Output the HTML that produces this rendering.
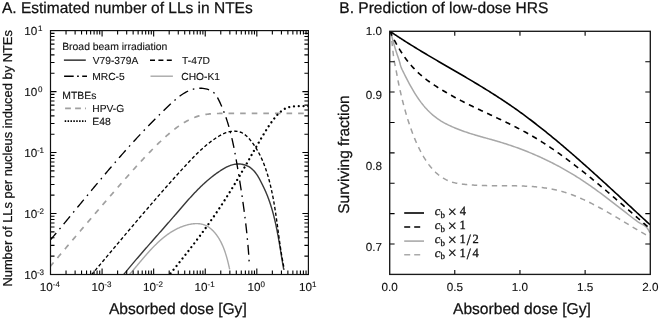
<!DOCTYPE html>
<html><head><meta charset="utf-8"><style>
html,body{margin:0;padding:0;background:#fff;}
svg{display:block;will-change:transform;}
text{font-family:"Liberation Sans", sans-serif;fill:#111;stroke:#111;stroke-width:0.12px;text-rendering:geometricPrecision;}
text.big{stroke:#111;stroke-width:0.25px;}
text.ser{font-family:"Liberation Serif", serif;stroke:#111;stroke-width:0.3px;}
</style></head><body>
<svg width="660" height="319" viewBox="0 0 660 319">
<defs><clipPath id="ca"><rect x="51" y="31" width="257" height="243"/></clipPath></defs><g clip-path="url(#ca)"><path d="M125.04 279.40L125.37 279.05L125.70 278.70L126.03 278.34L126.36 277.99L126.69 277.63L127.02 277.27L127.34 276.90L127.67 276.54L128.00 276.17L128.33 275.80L128.66 275.43L128.98 275.06L129.31 274.69L129.64 274.31L129.97 273.94L130.30 273.56L130.62 273.18L130.95 272.80L131.28 272.42L131.61 272.04L131.94 271.65L132.27 271.27L132.60 270.88L132.92 270.49L133.25 270.10L133.58 269.71L133.91 269.32L134.24 268.93L134.57 268.54L134.90 268.14L135.23 267.75L135.57 267.35L135.90 266.96L136.23 266.56L136.56 266.16L136.89 265.76L137.23 265.37L137.56 264.97L137.89 264.57L138.23 264.17L138.56 263.77L138.90 263.36L139.23 262.96L139.57 262.56L139.90 262.16L140.24 261.76L140.58 261.36L140.92 260.95L141.26 260.55L141.59 260.15L141.93 259.75L142.27 259.34L142.61 258.94L142.96 258.54L143.30 258.14L143.64 257.74L143.99 257.33L144.33 256.93L144.67 256.53L145.02 256.13L145.37 255.73L145.71 255.33L146.06 254.93L146.41 254.54L146.76 254.14L147.11 253.74L147.46 253.34L147.81 252.95L148.17 252.55L148.52 252.16L148.87 251.77L149.23 251.37L149.59 250.98L149.94 250.59L150.30 250.20L150.66 249.81L151.02 249.43L151.38 249.04L151.74 248.66L152.11 248.27L152.47 247.89L152.84 247.51L153.20 247.13L153.57 246.75L153.94 246.37L154.31 246.00L154.68 245.62L155.05 245.25L155.43 244.88L155.80 244.51L156.18 244.15L156.55 243.78L156.93 243.42L157.31 243.05L157.69 242.69L158.07 242.34L158.45 241.98L158.84 241.63L159.22 241.27L159.61 240.92L160.00 240.58L160.39 240.23L160.78 239.89L161.17 239.55L161.57 239.21L161.96 238.87L162.36 238.54L162.76 238.20L163.16 237.87L163.56 237.55L163.96 237.22L164.36 236.90L164.77 236.58L165.18 236.27L165.59 235.95L166.00 235.64L166.41 235.33L166.82 235.03L167.24 234.73L167.65 234.43L168.07 234.13L168.49 233.84L168.91 233.55L169.34 233.26L169.76 232.97L170.19 232.69L170.62 232.42L171.05 232.14L171.48 231.87L171.91 231.60L172.35 231.34L172.79 231.08L173.23 230.82L173.67 230.57L174.11 230.32L174.55 230.07L175.00 229.83L175.45 229.59L175.90 229.35L176.35 229.12L176.81 228.89L177.26 228.67L177.72 228.45L178.18 228.23L178.65 228.02L179.11 227.81L179.58 227.60L180.04 227.40L180.51 227.21L180.99 227.02L181.46 226.83L181.94 226.64L182.42 226.47L182.90 226.29L183.38 226.12L183.87 225.95L184.36 225.79L184.85 225.64L185.34 225.48L185.83 225.34L186.33 225.19L186.83 225.06L187.33 224.92L187.83 224.79L188.34 224.67L188.84 224.55L189.35 224.44L189.86 224.34L190.37 224.24L190.88 224.14L191.39 224.06L191.91 223.98L192.42 223.91L192.93 223.84L193.44 223.79L193.96 223.74L194.47 223.69L194.98 223.66L195.49 223.64L196.00 223.62L196.51 223.61L197.02 223.62L197.53 223.63L198.04 223.65L198.54 223.68L199.04 223.72L199.54 223.77L200.04 223.84L200.53 223.91L201.03 223.99L201.52 224.09L202.00 224.19L202.49 224.31L202.97 224.44L203.44 224.58L203.92 224.74L204.38 224.91L204.85 225.09L205.31 225.28L205.77 225.49L206.22 225.70L206.67 225.94L207.11 226.18L207.55 226.43L207.98 226.70L208.41 226.98L208.84 227.26L209.25 227.56L209.67 227.86L210.08 228.18L210.48 228.50L210.88 228.83L211.28 229.17L211.67 229.51L212.05 229.87L212.43 230.22L212.80 230.59L213.17 230.96L213.53 231.34L213.89 231.72L214.24 232.10L214.58 232.49L214.93 232.89L215.26 233.29L215.59 233.70L215.92 234.11L216.24 234.52L216.55 234.94L216.86 235.37L217.17 235.80L217.47 236.23L217.77 236.67L218.06 237.11L218.35 237.55L218.63 238.00L218.91 238.45L219.18 238.91L219.45 239.36L219.72 239.83L219.98 240.29L220.23 240.76L220.48 241.23L220.73 241.70L220.98 242.18L221.22 242.66L221.45 243.14L221.68 243.62L221.91 244.11L222.14 244.60L222.36 245.09L222.57 245.58L222.79 246.07L223.00 246.57L223.20 247.07L223.40 247.56L223.60 248.06L223.80 248.56L223.99 249.07L224.18 249.57L224.37 250.07L224.55 250.58L224.73 251.09L224.90 251.59L225.08 252.10L225.25 252.61L225.42 253.11L225.58 253.62L225.74 254.13L225.90 254.64L226.06 255.14L226.21 255.65L226.36 256.16L226.51 256.66L226.66 257.17L226.80 257.67L226.94 258.18L227.08 258.68L227.22 259.18L227.35 259.68L227.48 260.18L227.61 260.68L227.74 261.18L227.87 261.67L227.99 262.17L228.11 262.66L228.23 263.15L228.35 263.64L228.47 264.12L228.58 264.60L228.70 265.08L228.81 265.56L228.92 266.04L229.03 266.51L229.14 266.98L229.24 267.45L229.35 267.91L229.45 268.37L229.55 268.83L229.65 269.28" stroke="#a8a8a8" stroke-width="1.4" fill="none"/><path d="M45.34 272.18L46.10 271.29L46.86 270.39L47.62 269.49L48.38 268.59L49.14 267.70L49.90 266.80L50.66 265.90L51.42 265.00L52.18 264.11L52.94 263.21L53.70 262.31L54.46 261.41L55.22 260.52L55.98 259.62L56.75 258.72L57.51 257.83L58.27 256.93L59.03 256.03L59.79 255.14L60.55 254.24L61.31 253.34L62.07 252.45L62.83 251.55L63.59 250.65L64.35 249.76L65.11 248.86L65.87 247.96L66.63 247.07L67.39 246.17L68.15 245.28L68.91 244.38L69.67 243.49L70.43 242.59L71.19 241.69L71.95 240.80L72.71 239.90L73.47 239.01L74.23 238.11L74.99 237.22L75.75 236.32L76.51 235.43L77.27 234.54L78.03 233.64L78.80 232.75L79.56 231.85L80.32 230.96L81.08 230.07L81.84 229.17L82.60 228.28L83.36 227.39L84.12 226.49L84.88 225.60L85.64 224.71L86.40 223.82L87.16 222.93L87.92 222.03L88.68 221.14L89.44 220.25L90.20 219.36L90.96 218.47L91.72 217.58L92.48 216.69L93.24 215.80L94.00 214.91L94.76 214.02L95.52 213.13L96.28 212.25L97.04 211.36L97.80 210.47L98.56 209.58L99.32 208.70L100.08 207.81L100.85 206.92L101.61 206.04L102.37 205.15L103.13 204.27L103.89 203.39L104.65 202.50L105.41 201.62L106.17 200.74L106.93 199.85L107.69 198.97L108.45 198.09L109.21 197.21L109.97 196.33L110.73 195.45L111.49 194.58L112.25 193.70L113.01 192.82L113.77 191.95L114.53 191.07L115.29 190.20L116.05 189.32L116.81 188.45L117.57 187.58L118.33 186.71L119.09 185.84L119.85 184.97L120.61 184.10L121.37 183.24L122.13 182.37L122.90 181.51L123.66 180.64L124.42 179.78L125.18 178.92L125.94 178.06L126.70 177.20L127.46 176.34L128.22 175.49L128.98 174.64L129.74 173.78L130.50 172.93L131.26 172.08L132.02 171.24L132.78 170.39L133.54 169.55L134.30 168.70L135.06 167.86L135.82 167.02L136.58 166.19L137.34 165.35L138.10 164.52L138.86 163.69L139.62 162.87L140.38 162.04L141.14 161.22L141.90 160.40L142.66 159.58L143.42 158.77L144.18 157.95L144.94 157.15L145.71 156.34L146.47 155.54L147.23 154.74L147.99 153.94L148.75 153.15L149.51 152.36L150.27 151.57L151.03 150.79L151.79 150.01L152.55 149.24L153.31 148.47L154.07 147.70L154.83 146.94L155.59 146.18L156.35 145.43L157.11 144.68L157.87 143.94L158.63 143.20L159.39 142.47L160.15 141.74L160.91 141.02L161.67 140.31L162.43 139.60L163.19 138.89L163.95 138.19L164.71 137.50L165.47 136.82L166.23 136.14L166.99 135.46L167.76 134.80L168.52 134.14L169.28 133.49L170.04 132.85L170.80 132.21L171.56 131.59L172.32 130.97L173.08 130.36L173.84 129.76L174.60 129.16L175.36 128.58L176.12 128.01L176.88 127.44L177.64 126.89L178.40 126.34L179.16 125.80L179.92 125.28L180.68 124.76L181.44 124.26L182.20 123.77L182.96 123.28L183.72 122.81L184.48 122.35L185.24 121.91L186.00 121.47L186.76 121.04L187.52 120.63L188.28 120.23L189.04 119.84L189.81 119.47L190.57 119.10L191.33 118.75L192.09 118.42L192.85 118.09L193.61 117.78L194.37 117.48L195.13 117.19L195.89 116.91L196.65 116.65L197.41 116.40L198.17 116.17L198.93 115.94L199.69 115.73L200.45 115.53L201.21 115.34L201.97 115.16L202.73 115.00L203.49 114.84L204.25 114.70L205.01 114.56L205.77 114.44L206.53 114.33L207.29 114.22L208.05 114.13L208.81 114.04L209.57 113.96L210.33 113.89L211.09 113.82L211.86 113.77L212.62 113.71L213.38 113.67L214.14 113.63L214.90 113.59L215.66 113.56L216.42 113.54L217.18 113.51L217.94 113.49L218.70 113.48L219.46 113.46L220.22 113.45L220.98 113.44L221.74 113.43L222.50 113.43L223.26 113.42L224.02 113.42L224.78 113.41L225.54 113.41L226.30 113.41L227.06 113.41L227.82 113.41L228.58 113.41L229.34 113.40L230.10 113.40L230.86 113.40L231.62 113.40L232.38 113.40L233.14 113.40L233.91 113.40L234.67 113.40L235.43 113.40L236.19 113.40L236.95 113.40L237.71 113.40L238.47 113.40L239.23 113.40L239.99 113.40L240.75 113.40L241.51 113.40L242.27 113.40L243.03 113.40L243.79 113.40L244.55 113.40L245.31 113.40L246.07 113.40L246.83 113.40L247.59 113.40L248.35 113.40L249.11 113.40L249.87 113.40L250.63 113.40L251.39 113.40L252.15 113.40L252.91 113.40L253.67 113.40L254.43 113.40L255.19 113.40L255.96 113.40L256.72 113.40L257.48 113.40L258.24 113.40L259.00 113.40L259.76 113.40L260.52 113.40L261.28 113.40L262.04 113.40L262.80 113.40L263.56 113.40L264.32 113.40L265.08 113.40L265.84 113.40L266.60 113.40L267.36 113.40L268.12 113.40L268.88 113.40L269.64 113.40L270.40 113.40L271.16 113.40L271.92 113.40L272.68 113.40L273.44 113.40L274.20 113.40L274.96 113.40L275.72 113.40L276.48 113.40L277.24 113.40L278.01 113.40L278.77 113.40L279.53 113.40L280.29 113.40L281.05 113.40L281.81 113.40L282.57 113.40L283.33 113.40L284.09 113.40L284.85 113.40L285.61 113.40L286.37 113.40L287.13 113.40L287.89 113.40L288.65 113.40L289.41 113.40L290.17 113.40L290.93 113.40L291.69 113.40L292.45 113.40L293.21 113.40L293.97 113.40L294.73 113.40L295.49 113.40L296.25 113.40L297.01 113.40L297.77 113.40L298.53 113.40L299.29 113.40L300.06 113.40L300.82 113.40L301.58 113.40L302.34 113.40L303.10 113.40L303.86 113.40L304.62 113.40L305.38 113.40L306.14 113.40L306.90 113.40L307.66 113.40L308.42 113.40L309.18 113.40L309.94 113.40L310.70 113.40" stroke="#a0a0a0" stroke-width="1.7" fill="none" stroke-dasharray="5.6 6" stroke-dashoffset="4.53"/><path d="M118.06 281.56L118.67 280.79L119.28 280.03L119.88 279.26L120.49 278.49L121.11 277.73L121.72 276.96L122.33 276.20L122.95 275.44L123.56 274.68L124.18 273.92L124.80 273.16L125.42 272.40L126.04 271.64L126.66 270.89L127.28 270.13L127.90 269.38L128.53 268.63L129.15 267.87L129.78 267.12L130.40 266.37L131.03 265.62L131.66 264.87L132.29 264.13L132.92 263.38L133.55 262.63L134.18 261.89L134.81 261.14L135.45 260.40L136.08 259.65L136.71 258.91L137.35 258.17L137.99 257.43L138.62 256.68L139.26 255.94L139.90 255.20L140.54 254.46L141.18 253.72L141.81 252.99L142.46 252.25L143.10 251.51L143.74 250.77L144.38 250.04L145.02 249.30L145.66 248.56L146.31 247.83L146.95 247.09L147.59 246.35L148.24 245.62L148.88 244.88L149.53 244.15L150.17 243.41L150.82 242.68L151.46 241.95L152.11 241.21L152.75 240.48L153.40 239.74L154.05 239.01L154.69 238.28L155.34 237.54L155.99 236.81L156.64 236.07L157.28 235.34L157.93 234.61L158.58 233.87L159.22 233.14L159.87 232.40L160.52 231.67L161.17 230.93L161.81 230.20L162.46 229.46L163.11 228.73L163.76 227.99L164.40 227.26L165.05 226.52L165.70 225.78L166.34 225.05L166.99 224.31L167.64 223.57L168.28 222.83L168.93 222.09L169.57 221.35L170.22 220.61L170.86 219.87L171.51 219.13L172.15 218.39L172.79 217.65L173.44 216.91L174.08 216.17L174.72 215.42L175.37 214.68L176.01 213.93L176.65 213.19L177.29 212.44L177.93 211.70L178.57 210.95L179.21 210.20L179.85 209.46L180.50 208.71L181.14 207.97L181.78 207.22L182.42 206.48L183.07 205.73L183.71 204.99L184.36 204.25L185.01 203.51L185.65 202.77L186.30 202.03L186.95 201.29L187.60 200.56L188.26 199.82L188.91 199.09L189.57 198.36L190.23 197.63L190.89 196.91L191.55 196.18L192.21 195.46L192.88 194.74L193.55 194.03L194.22 193.31L194.89 192.60L195.57 191.90L196.25 191.19L196.93 190.49L197.62 189.79L198.30 189.10L199.00 188.41L199.69 187.72L200.39 187.03L201.09 186.35L201.79 185.68L202.50 185.01L203.21 184.34L203.93 183.68L204.65 183.02L205.37 182.36L206.10 181.71L206.83 181.07L207.57 180.43L208.31 179.80L209.05 179.17L209.80 178.54L210.56 177.92L211.32 177.31L212.08 176.70L212.85 176.10L213.62 175.51L214.40 174.92L215.19 174.33L215.98 173.76L216.78 173.19L217.58 172.62L218.38 172.07L219.20 171.51L220.02 170.97L220.84 170.43L221.67 169.90L222.51 169.38L223.35 168.87L224.21 168.37L225.06 167.89L225.93 167.42L226.81 166.97L227.69 166.55L228.59 166.15L229.49 165.78L230.40 165.43L231.33 165.12L232.26 164.85L233.21 164.61L234.17 164.41L235.13 164.25L236.11 164.13L237.10 164.05L238.09 164.02L239.07 164.02L240.06 164.07L241.04 164.17L242.02 164.30L242.98 164.48L243.94 164.70L244.87 164.96L245.79 165.27L246.69 165.62L247.56 166.01L248.41 166.45L249.23 166.93L250.03 167.45L250.80 168.00L251.54 168.60L252.26 169.22L252.96 169.88L253.63 170.56L254.28 171.28L254.91 172.01L255.51 172.77L256.10 173.55L256.66 174.35L257.21 175.16L257.73 175.98L258.24 176.82L258.73 177.67L259.21 178.52L259.68 179.38L260.13 180.25L260.59 181.12L261.03 181.99L261.47 182.86L261.92 183.73L262.35 184.60L262.79 185.48L263.21 186.35L263.64 187.22L264.06 188.10L264.47 188.98L264.87 189.86L265.27 190.75L265.66 191.63L266.05 192.53L266.42 193.42L266.79 194.32L267.16 195.21L267.51 196.12L267.86 197.02L268.21 197.93L268.55 198.84L268.88 199.75L269.20 200.66L269.52 201.58L269.84 202.50L270.15 203.42L270.45 204.34L270.75 205.27L271.04 206.20L271.33 207.13L271.61 208.06L271.89 208.99L272.16 209.93L272.43 210.86L272.69 211.80L272.95 212.74L273.20 213.69L273.45 214.63L273.69 215.58L273.94 216.52L274.17 217.47L274.40 218.42L274.63 219.38L274.86 220.33L275.08 221.28L275.30 222.24L275.51 223.19L275.72 224.15L275.93 225.11L276.13 226.07L276.33 227.03L276.53 227.99L276.73 228.96L276.92 229.92L277.11 230.89L277.29 231.85L277.48 232.82L277.66 233.78L277.84 234.75L278.02 235.72L278.20 236.69L278.37 237.65L278.54 238.62L278.71 239.59L278.88 240.56L279.05 241.53L279.22 242.50L279.38 243.47L279.54 244.44L279.71 245.41L279.87 246.38L280.03 247.35L280.19 248.32L280.35 249.29L280.51 250.26L280.67 251.23L280.82 252.20L280.98 253.16L281.14 254.13L281.30 255.10L281.45 256.06L281.61 257.03L281.77 258.00L281.93 258.96L282.09 259.92L282.25 260.89L282.41 261.85L282.57 262.81L282.73 263.77L282.89 264.73L283.05 265.69L283.22 266.65L283.39 267.60L283.55 268.56L283.72 269.51" stroke="#383838" stroke-width="1.4" fill="none"/><path d="M79.93 288.41L80.75 287.45L81.57 286.49L82.38 285.53L83.20 284.57L84.02 283.61L84.84 282.64L85.65 281.68L86.47 280.72L87.28 279.76L88.10 278.80L88.91 277.83L89.73 276.87L90.54 275.91L91.36 274.94L92.17 273.98L92.99 273.02L93.80 272.05L94.61 271.09L95.43 270.12L96.24 269.16L97.05 268.19L97.87 267.23L98.68 266.26L99.49 265.30L100.30 264.33L101.12 263.37L101.93 262.40L102.74 261.44L103.55 260.47L104.36 259.50L105.18 258.54L105.99 257.57L106.80 256.61L107.61 255.64L108.42 254.67L109.24 253.71L110.05 252.74L110.86 251.78L111.67 250.81L112.48 249.84L113.29 248.88L114.10 247.91L114.92 246.94L115.73 245.98L116.54 245.01L117.35 244.05L118.16 243.08L118.98 242.12L119.79 241.15L120.60 240.18L121.41 239.22L122.23 238.25L123.04 237.29L123.85 236.32L124.67 235.36L125.48 234.39L126.29 233.43L127.11 232.46L127.92 231.50L128.73 230.54L129.55 229.57L130.36 228.61L131.18 227.64L131.99 226.68L132.81 225.72L133.62 224.76L134.44 223.79L135.26 222.83L136.07 221.87L136.89 220.91L137.71 219.95L138.53 218.98L139.34 218.02L140.16 217.06L140.98 216.10L141.80 215.14L142.62 214.18L143.44 213.22L144.26 212.27L145.08 211.31L145.91 210.35L146.73 209.39L147.55 208.44L148.37 207.48L149.20 206.52L150.02 205.57L150.84 204.61L151.67 203.66L152.50 202.70L153.32 201.75L154.15 200.79L154.98 199.84L155.80 198.89L156.63 197.94L157.46 196.98L158.29 196.03L159.12 195.08L159.95 194.13L160.78 193.18L161.61 192.23L162.45 191.29L163.28 190.34L164.12 189.39L164.95 188.44L165.79 187.50L166.62 186.55L167.46 185.61L168.30 184.66L169.14 183.72L169.97 182.78L170.81 181.84L171.66 180.89L172.50 179.95L173.34 179.01L174.18 178.07L175.03 177.13L175.87 176.20L176.72 175.26L177.56 174.32L178.41 173.39L179.26 172.45L180.11 171.52L180.96 170.58L181.81 169.65L182.66 168.72L183.52 167.79L184.37 166.86L185.22 165.93L186.08 165.00L186.94 164.07L187.80 163.15L188.66 162.23L189.52 161.31L190.39 160.39L191.26 159.48L192.13 158.56L193.01 157.66L193.89 156.76L194.78 155.86L195.67 154.97L196.56 154.08L197.46 153.20L198.37 152.33L199.28 151.46L200.20 150.60L201.12 149.74L202.05 148.89L202.99 148.05L203.93 147.22L204.89 146.40L205.85 145.58L206.81 144.78L207.79 143.98L208.77 143.20L209.77 142.42L210.77 141.66L211.78 140.90L212.81 140.16L213.84 139.43L214.88 138.71L215.94 138.00L217.00 137.31L218.08 136.63L219.17 135.97L220.27 135.33L221.39 134.72L222.51 134.15L223.66 133.61L224.82 133.11L226.00 132.66L227.19 132.27L228.40 131.92L229.63 131.64L230.87 131.42L232.11 131.27L233.36 131.18L234.60 131.16L235.84 131.22L237.06 131.36L238.27 131.57L239.45 131.86L240.60 132.24L241.72 132.71L242.81 133.26L243.86 133.90L244.87 134.62L245.85 135.41L246.79 136.25L247.71 137.15L248.60 138.09L249.46 139.06L250.30 140.06L251.11 141.08L251.91 142.10L252.68 143.14L253.43 144.18L254.17 145.24L254.88 146.30L255.58 147.37L256.25 148.45L256.91 149.53L257.56 150.63L258.18 151.73L258.79 152.84L259.38 153.95L259.95 155.07L260.51 156.20L261.05 157.34L261.58 158.48L262.10 159.62L262.60 160.78L263.09 161.93L263.56 163.10L264.02 164.26L264.47 165.44L264.90 166.61L265.33 167.79L265.74 168.98L266.14 170.17L266.53 171.36L266.92 172.56L267.29 173.76L267.65 174.96L268.00 176.16L268.35 177.37L268.69 178.58L269.02 179.79L269.34 181.01L269.65 182.22L269.96 183.44L270.26 184.66L270.55 185.89L270.84 187.11L271.12 188.34L271.39 189.56L271.66 190.79L271.92 192.03L272.18 193.26L272.43 194.49L272.67 195.73L272.91 196.97L273.15 198.21L273.38 199.45L273.60 200.69L273.82 201.93L274.04 203.18L274.25 204.42L274.46 205.67L274.67 206.91L274.87 208.16L275.07 209.41L275.26 210.66L275.45 211.91L275.64 213.16L275.83 214.42L276.01 215.67L276.19 216.92L276.37 218.18L276.55 219.43L276.73 220.68L276.90 221.94L277.08 223.20L277.25 224.45L277.42 225.71L277.59 226.96L277.76 228.22L277.93 229.47L278.10 230.73L278.27 231.99L278.44 233.24L278.61 234.50L278.78 235.75L278.95 237.01L279.13 238.26L279.30 239.52L279.48 240.77L279.65 242.02L279.83 243.27L280.01 244.53L280.20 245.78L280.38 247.03L280.57 248.28L280.76 249.52L280.95 250.77L281.14 252.02L281.34 253.26L281.55 254.51L281.75 255.75L281.96 256.99L282.17 258.24L282.39 259.47L282.61 260.71L282.84 261.95L283.07 263.18L283.31 264.42L283.55 265.65L283.80 266.88L284.05 268.11L284.30 269.34" stroke="#000" stroke-width="1.35" fill="none" stroke-dasharray="3.4 2.3" stroke-dashoffset="5.10"/><path d="M44.93 246.41L45.85 245.33L46.77 244.25L47.69 243.17L48.61 242.09L49.52 241.01L50.43 239.93L51.34 238.85L52.25 237.77L53.16 236.69L54.07 235.61L54.97 234.53L55.88 233.45L56.78 232.37L57.68 231.29L58.58 230.22L59.48 229.14L60.38 228.06L61.27 226.98L62.17 225.90L63.07 224.82L63.96 223.75L64.85 222.67L65.74 221.59L66.63 220.51L67.53 219.44L68.41 218.36L69.30 217.28L70.19 216.21L71.08 215.13L71.97 214.06L72.85 212.98L73.74 211.91L74.62 210.83L75.51 209.76L76.39 208.69L77.28 207.61L78.16 206.54L79.04 205.47L79.93 204.39L80.81 203.32L81.69 202.25L82.57 201.18L83.46 200.11L84.34 199.04L85.22 197.97L86.10 196.90L86.99 195.83L87.87 194.76L88.75 193.70L89.63 192.63L90.52 191.56L91.40 190.50L92.28 189.43L93.17 188.37L94.05 187.30L94.94 186.24L95.82 185.18L96.71 184.11L97.59 183.05L98.48 181.99L99.37 180.93L100.25 179.87L101.14 178.81L102.03 177.75L102.92 176.70L103.81 175.64L104.70 174.58L105.60 173.53L106.49 172.47L107.38 171.42L108.28 170.37L109.18 169.31L110.07 168.26L110.97 167.21L111.87 166.16L112.77 165.11L113.68 164.06L114.58 163.02L115.48 161.97L116.39 160.92L117.30 159.88L118.21 158.83L119.12 157.79L120.03 156.75L120.94 155.71L121.86 154.67L122.77 153.63L123.69 152.59L124.61 151.55L125.53 150.52L126.46 149.48L127.38 148.45L128.31 147.41L129.24 146.38L130.17 145.35L131.10 144.32L132.04 143.29L132.98 142.26L133.91 141.23L134.86 140.21L135.80 139.18L136.75 138.16L137.69 137.14L138.64 136.11L139.60 135.09L140.55 134.08L141.51 133.06L142.47 132.04L143.43 131.02L144.40 130.01L145.36 129.00L146.33 127.98L147.31 126.97L148.28 125.96L149.26 124.96L150.24 123.95L151.23 122.94L152.21 121.94L153.20 120.94L154.19 119.93L155.19 118.93L156.19 117.94L157.19 116.94L158.19 115.94L159.20 114.95L160.21 113.95L161.23 112.96L162.24 111.97L163.26 110.98L164.29 109.99L165.31 109.01L166.34 108.02L167.38 107.04L168.42 106.06L169.46 105.07L170.50 104.10L171.55 103.12L172.61 102.16L173.67 101.20L174.73 100.26L175.81 99.33L176.89 98.42L177.98 97.53L179.09 96.67L180.20 95.83L181.32 95.02L182.46 94.25L183.61 93.50L184.77 92.80L185.95 92.13L187.14 91.51L188.35 90.94L189.58 90.41L190.82 89.93L192.09 89.51L193.37 89.14L194.67 88.83L195.99 88.59L197.34 88.40L198.70 88.29L200.09 88.25L201.50 88.27L202.92 88.38L204.35 88.56L205.76 88.82L207.15 89.17L208.50 89.60L209.81 90.13L211.06 90.74L212.24 91.45L213.34 92.25L214.35 93.16L215.25 94.16L216.08 95.25L216.83 96.41L217.52 97.62L218.17 98.86L218.80 100.12L219.42 101.39L220.02 102.66L220.60 103.93L221.18 105.21L221.74 106.49L222.28 107.77L222.82 109.06L223.34 110.36L223.85 111.66L224.35 112.96L224.83 114.26L225.31 115.57L225.77 116.89L226.23 118.20L226.67 119.52L227.10 120.85L227.52 122.17L227.94 123.50L228.34 124.83L228.73 126.17L229.12 127.51L229.49 128.85L229.86 130.19L230.22 131.54L230.57 132.88L230.91 134.23L231.24 135.59L231.57 136.94L231.89 138.30L232.21 139.66L232.51 141.02L232.81 142.38L233.11 143.74L233.40 145.11L233.68 146.48L233.96 147.85L234.23 149.22L234.50 150.59L234.77 151.96L235.03 153.33L235.28 154.70L235.54 156.08L235.78 157.45L236.03 158.83L236.27 160.21L236.51 161.58L236.75 162.96L236.98 164.34L237.22 165.71L237.45 167.09L237.68 168.47L237.91 169.84L238.14 171.22L238.36 172.60L238.59 173.97L238.81 175.35L239.04 176.72L239.26 178.10L239.48 179.48L239.70 180.85L239.92 182.23L240.14 183.60L240.36 184.97L240.57 186.35L240.78 187.72L241.00 189.10L241.21 190.47L241.42 191.85L241.63 193.22L241.83 194.60L242.04 195.97L242.24 197.35L242.44 198.72L242.64 200.10L242.84 201.47L243.03 202.85L243.23 204.22L243.42 205.60L243.61 206.97L243.80 208.35L243.99 209.73L244.17 211.10L244.35 212.48L244.53 213.86L244.71 215.24L244.89 216.61L245.06 217.99L245.23 219.37L245.40 220.75L245.57 222.13L245.73 223.51L245.89 224.89L246.05 226.27L246.21 227.65L246.36 229.04L246.51 230.42L246.66 231.80L246.81 233.19L246.95 234.57L247.09 235.96L247.23 237.34L247.37 238.73L247.50 240.12L247.63 241.51L247.76 242.89L247.88 244.28L248.00 245.67L248.12 247.07L248.23 248.46L248.34 249.85L248.45 251.24L248.56 252.64L248.66 254.03L248.76 255.43L248.85 256.83L248.94 258.23L249.03 259.63L249.12 261.03L249.20 262.43L249.27 263.83L249.35 265.23" stroke="#000" stroke-width="1.35" fill="none" stroke-dasharray="10 5 1.6 5" stroke-dashoffset="14.06"/><path d="M157.11 289.76L157.87 288.84L158.63 287.92L159.39 287.00L160.15 286.07L160.91 285.15L161.67 284.23L162.43 283.30L163.19 282.38L163.95 281.45L164.71 280.52L165.47 279.59L166.23 278.66L166.99 277.73L167.76 276.80L168.52 275.87L169.28 274.94L170.04 274.00L170.80 273.06L171.56 272.13L172.32 271.19L173.08 270.25L173.84 269.31L174.60 268.36L175.36 267.42L176.12 266.47L176.88 265.53L177.64 264.58L178.40 263.63L179.16 262.68L179.92 261.72L180.68 260.77L181.44 259.81L182.20 258.85L182.96 257.89L183.72 256.93L184.48 255.96L185.24 254.99L186.00 254.02L186.76 253.05L187.52 252.08L188.28 251.10L189.04 250.12L189.81 249.14L190.57 248.16L191.33 247.17L192.09 246.18L192.85 245.19L193.61 244.20L194.37 243.20L195.13 242.20L195.89 241.20L196.65 240.19L197.41 239.18L198.17 238.17L198.93 237.15L199.69 236.13L200.45 235.11L201.21 234.08L201.97 233.05L202.73 232.02L203.49 230.98L204.25 229.94L205.01 228.89L205.77 227.84L206.53 226.79L207.29 225.73L208.05 224.66L208.81 223.60L209.57 222.52L210.33 221.45L211.09 220.36L211.86 219.28L212.62 218.19L213.38 217.09L214.14 215.99L214.90 214.88L215.66 213.77L216.42 212.65L217.18 211.53L217.94 210.40L218.70 209.27L219.46 208.13L220.22 206.99L220.98 205.84L221.74 204.68L222.50 203.52L223.26 202.36L224.02 201.18L224.78 200.00L225.54 198.82L226.30 197.63L227.06 196.43L227.82 195.23L228.58 194.02L229.34 192.81L230.10 191.59L230.86 190.36L231.62 189.13L232.38 187.89L233.14 186.65L233.91 185.40L234.67 184.14L235.43 182.88L236.19 181.61L236.95 180.34L237.71 179.07L238.47 177.78L239.23 176.50L239.99 175.20L240.75 173.91L241.51 172.60L242.27 171.30L243.03 169.99L243.79 168.67L244.55 167.36L245.31 166.03L246.07 164.71L246.83 163.38L247.59 162.05L248.35 160.72L249.11 159.38L249.87 158.05L250.63 156.71L251.39 155.37L252.15 154.04L252.91 152.70L253.67 151.36L254.43 150.03L255.19 148.69L255.96 147.36L256.72 146.04L257.48 144.71L258.24 143.40L259.00 142.08L259.76 140.78L260.52 139.48L261.28 138.19L262.04 136.90L262.80 135.63L263.56 134.37L264.32 133.12L265.08 131.89L265.84 130.66L266.60 129.46L267.36 128.27L268.12 127.10L268.88 125.95L269.64 124.81L270.40 123.71L271.16 122.62L271.92 121.56L272.68 120.53L273.44 119.52L274.20 118.55L274.96 117.61L275.72 116.70L276.48 115.82L277.24 114.98L278.01 114.18L278.77 113.41L279.53 112.69L280.29 112.00L281.05 111.36L281.81 110.75L282.57 110.20L283.33 109.68L284.09 109.20L284.85 108.77L285.61 108.38L286.37 108.03L287.13 107.72L287.89 107.45L288.65 107.22L289.41 107.01L290.17 106.84L290.93 106.70L291.69 106.58L292.45 106.48L293.21 106.41L293.97 106.35L294.73 106.30L295.49 106.27L296.25 106.25L297.01 106.23L297.77 106.22L298.53 106.21L299.29 106.20L300.06 106.20L300.82 106.20L301.58 106.20L302.34 106.20L303.10 106.20L303.86 106.20L304.62 106.20L305.38 106.20L306.14 106.20L306.90 106.20L307.66 106.20L308.42 106.20L309.18 106.20L309.94 106.20L310.70 106.20" stroke="#000" stroke-width="2.25" fill="none" stroke-dasharray="0.01 4.78" stroke-dashoffset="2.84" stroke-linecap="round"/></g><defs><clipPath id="cb"><rect x="390" y="31" width="260" height="243"/></clipPath></defs><g clip-path="url(#cb)"><path d="M390.00 31.30L390.32 31.72L390.65 32.83L390.98 34.52L391.30 36.69L391.62 39.24L391.95 42.05L392.27 45.04L392.60 48.09L392.93 51.11L393.25 53.98L393.57 56.62L393.90 58.98L394.23 61.05L394.55 62.80L394.88 64.34L395.20 65.78L395.52 67.24L395.85 68.84L396.18 70.54L396.50 72.32L396.82 74.14L397.15 75.96L397.48 77.74L397.80 79.47L398.12 81.15L398.45 82.77L398.77 84.35L399.10 85.89L399.43 87.39L399.75 88.87L400.07 90.33L400.40 91.76L400.73 93.18L401.05 94.57L401.38 95.94L401.70 97.30L402.02 98.64L402.35 99.95L402.68 101.25L403.00 102.53L404.30 107.48L405.60 112.15L406.90 116.57L408.20 120.75L409.50 124.71L410.80 128.46L412.10 132.03L413.40 135.42L414.70 138.64L416.00 141.71L417.30 144.63L418.60 147.39L419.90 150.02L421.20 152.51L422.50 154.87L423.80 157.10L425.10 159.21L426.40 161.21L427.70 163.09L429.00 164.87L430.30 166.54L431.60 168.11L432.90 169.58L434.20 170.95L435.50 172.24L436.80 173.43L438.10 174.54L439.40 175.57L440.70 176.52L442.00 177.40L443.30 178.21L444.60 178.95L445.90 179.63L447.20 180.24L448.50 180.80L449.80 181.31L451.10 181.76L452.40 182.17L453.70 182.54L455.00 182.86L456.30 183.16L457.60 183.41L458.90 183.64L460.20 183.85L461.50 184.03L462.80 184.19L464.10 184.34L465.40 184.48L466.70 184.60L468.00 184.72L469.30 184.83L470.60 184.93L471.90 185.02L473.20 185.11L474.50 185.19L475.80 185.26L477.10 185.32L478.40 185.38L479.70 185.43L481.00 185.48L482.30 185.52L483.60 185.56L484.90 185.59L486.20 185.62L487.50 185.64L488.80 185.66L490.10 185.68L491.40 185.70L492.70 185.71L494.00 185.72L495.30 185.73L496.60 185.73L497.90 185.74L499.20 185.74L500.50 185.74L501.80 185.75L503.10 185.75L504.40 185.75L505.70 185.76L507.00 185.76L508.30 185.77L509.60 185.78L510.90 185.79L512.20 185.80L513.50 185.82L514.80 185.84L516.10 185.86L517.40 185.89L518.70 185.92L520.00 185.95L521.30 185.99L522.60 186.04L523.90 186.09L525.20 186.14L526.50 186.21L527.80 186.28L529.10 186.35L530.40 186.43L531.70 186.52L533.00 186.62L534.30 186.73L535.60 186.84L536.90 186.96L538.20 187.09L539.50 187.23L540.80 187.39L542.10 187.55L543.40 187.72L544.70 187.90L546.00 188.09L547.30 188.30L548.60 188.51L549.90 188.74L551.20 188.98L552.50 189.24L553.80 189.50L555.10 189.78L556.40 190.08L557.70 190.39L559.00 190.71L560.30 191.05L561.60 191.40L562.90 191.77L564.20 192.15L565.50 192.55L566.80 192.96L568.10 193.39L569.40 193.84L570.70 194.30L572.00 194.78L573.30 195.27L574.60 195.77L575.90 196.29L577.20 196.82L578.50 197.36L579.80 197.91L581.10 198.48L582.40 199.06L583.70 199.65L585.00 200.25L586.30 200.87L587.60 201.49L588.90 202.12L590.20 202.77L591.50 203.42L592.80 204.08L594.10 204.75L595.40 205.43L596.70 206.12L598.00 206.81L599.30 207.51L600.60 208.22L601.90 208.94L603.20 209.66L604.50 210.39L605.80 211.13L607.10 211.87L608.40 212.61L609.70 213.36L611.00 214.12L612.30 214.88L613.60 215.64L614.90 216.41L616.20 217.17L617.50 217.95L618.80 218.72L620.10 219.50L621.40 220.28L622.70 221.06L624.00 221.84L625.30 222.62L626.60 223.40L627.90 224.18L629.20 224.96L630.50 225.75L631.80 226.53L633.10 227.31L634.40 228.08L635.70 228.86L637.00 229.63L638.30 230.40L639.60 231.17L640.90 231.94L642.20 232.70L643.50 233.45L644.80 234.21L646.10 234.96L647.40 235.70L648.70 236.44L650.00 237.17" stroke="#a0a0a0" stroke-width="1.5" fill="none" stroke-dasharray="5.4 4.6" stroke-dashoffset="0.23"/><path d="M390.00 31.30L390.32 32.04L390.65 32.86L390.98 33.77L391.30 34.75L391.62 35.79L391.95 36.88L392.27 38.01L392.60 39.18L392.93 40.36L393.25 41.56L393.57 42.76L393.90 43.96L394.23 45.13L394.55 46.28L394.88 47.39L395.20 48.47L395.52 49.51L395.85 50.53L396.18 51.53L396.50 52.51L396.82 53.48L397.15 54.43L397.48 55.39L397.80 56.34L398.12 57.30L398.45 58.27L398.77 59.25L399.10 60.25L399.43 61.34L399.75 62.54L400.07 63.79L400.40 64.99L400.73 66.07L401.05 67.03L401.38 67.88L401.70 68.65L402.02 69.36L402.35 70.04L402.68 70.71L403.00 71.38L404.30 74.02L405.60 76.62L406.90 79.15L408.20 81.63L409.50 84.04L410.80 86.40L412.10 88.69L413.40 90.90L414.70 93.05L416.00 95.12L417.30 97.12L418.60 99.04L419.90 100.87L421.20 102.62L422.50 104.29L423.80 105.88L425.10 107.40L426.40 108.85L427.70 110.22L429.00 111.53L430.30 112.78L431.60 113.96L432.90 115.09L434.20 116.16L435.50 117.17L436.80 118.14L438.10 119.06L439.40 119.94L440.70 120.77L442.00 121.56L443.30 122.32L444.60 123.05L445.90 123.74L447.20 124.41L448.50 125.05L449.80 125.66L451.10 126.26L452.40 126.84L453.70 127.41L455.00 127.96L456.30 128.50L457.60 129.02L458.90 129.53L460.20 130.02L461.50 130.51L462.80 130.98L464.10 131.44L465.40 131.89L466.70 132.33L468.00 132.76L469.30 133.18L470.60 133.60L471.90 134.00L473.20 134.40L474.50 134.80L475.80 135.18L477.10 135.57L478.40 135.94L479.70 136.32L481.00 136.69L482.30 137.05L483.60 137.42L484.90 137.78L486.20 138.14L487.50 138.51L488.80 138.87L490.10 139.23L491.40 139.59L492.70 139.96L494.00 140.33L495.30 140.70L496.60 141.07L497.90 141.45L499.20 141.84L500.50 142.23L501.80 142.62L503.10 143.02L504.40 143.43L505.70 143.84L507.00 144.26L508.30 144.68L509.60 145.11L510.90 145.55L512.20 145.99L513.50 146.44L514.80 146.90L516.10 147.36L517.40 147.83L518.70 148.30L520.00 148.78L521.30 149.27L522.60 149.76L523.90 150.26L525.20 150.77L526.50 151.28L527.80 151.80L529.10 152.33L530.40 152.87L531.70 153.41L533.00 153.96L534.30 154.51L535.60 155.07L536.90 155.64L538.20 156.22L539.50 156.80L540.80 157.39L542.10 157.99L543.40 158.60L544.70 159.21L546.00 159.83L547.30 160.46L548.60 161.09L549.90 161.73L551.20 162.38L552.50 163.04L553.80 163.71L555.10 164.38L556.40 165.06L557.70 165.75L559.00 166.45L560.30 167.15L561.60 167.87L562.90 168.59L564.20 169.32L565.50 170.06L566.80 170.80L568.10 171.56L569.40 172.32L570.70 173.09L572.00 173.87L573.30 174.66L574.60 175.45L575.90 176.26L577.20 177.07L578.50 177.89L579.80 178.73L581.10 179.57L582.40 180.41L583.70 181.27L585.00 182.14L586.30 183.01L587.60 183.90L588.90 184.79L590.20 185.69L591.50 186.60L592.80 187.52L594.10 188.45L595.40 189.38L596.70 190.32L598.00 191.27L599.30 192.23L600.60 193.19L601.90 194.16L603.20 195.13L604.50 196.11L605.80 197.09L607.10 198.08L608.40 199.07L609.70 200.06L611.00 201.06L612.30 202.06L613.60 203.07L614.90 204.08L616.20 205.09L617.50 206.10L618.80 207.11L620.10 208.13L621.40 209.14L622.70 210.16L624.00 211.18L625.30 212.19L626.60 213.21L627.90 214.23L629.20 215.24L630.50 216.26L631.80 217.27L633.10 218.27L634.40 219.26L635.70 220.22L637.00 221.14L638.30 222.01L639.60 222.83L640.90 223.58L642.20 224.26L643.50 224.95L644.80 225.77L646.10 226.85L647.40 228.35L648.70 230.37L650.00 232.80" stroke="#a8a8a8" stroke-width="1.5" fill="none"/><path d="M390.00 31.30L390.32 32.00L390.65 32.69L390.98 33.38L391.30 34.06L391.62 34.73L391.95 35.40L392.27 36.06L392.60 36.71L392.93 37.36L393.25 38.01L393.57 38.64L393.90 39.27L394.23 39.90L394.55 40.52L394.88 41.13L395.20 41.74L395.52 42.34L395.85 42.94L396.18 43.53L396.50 44.11L396.82 44.69L397.15 45.27L397.48 45.84L397.80 46.40L398.12 46.96L398.45 47.51L398.77 48.06L399.10 48.60L399.43 49.14L399.75 49.67L400.07 50.20L400.40 50.72L400.73 51.24L401.05 51.75L401.38 52.25L401.70 52.76L402.02 53.25L402.35 53.75L402.68 54.23L403.00 54.72L404.30 56.60L405.60 58.41L406.90 60.15L408.20 61.83L409.50 63.44L410.80 64.98L412.10 66.47L413.40 67.90L414.70 69.27L416.00 70.59L417.30 71.87L418.60 73.09L419.90 74.27L421.20 75.41L422.50 76.51L423.80 77.57L425.10 78.60L426.40 79.60L427.70 80.57L429.00 81.51L430.30 82.43L431.60 83.33L432.90 84.20L434.20 85.07L435.50 85.91L436.80 86.75L438.10 87.58L439.40 88.39L440.70 89.20L442.00 89.99L443.30 90.78L444.60 91.55L445.90 92.31L447.20 93.07L448.50 93.82L449.80 94.56L451.10 95.29L452.40 96.01L453.70 96.72L455.00 97.43L456.30 98.13L457.60 98.82L458.90 99.51L460.20 100.19L461.50 100.86L462.80 101.53L464.10 102.19L465.40 102.85L466.70 103.50L468.00 104.15L469.30 104.79L470.60 105.43L471.90 106.06L473.20 106.70L474.50 107.32L475.80 107.95L477.10 108.57L478.40 109.19L479.70 109.80L481.00 110.42L482.30 111.03L483.60 111.64L484.90 112.25L486.20 112.86L487.50 113.47L488.80 114.08L490.10 114.69L491.40 115.30L492.70 115.90L494.00 116.51L495.30 117.12L496.60 117.74L497.90 118.35L499.20 118.96L500.50 119.58L501.80 120.20L503.10 120.82L504.40 121.45L505.70 122.08L507.00 122.71L508.30 123.34L509.60 123.98L510.90 124.63L512.20 125.28L513.50 125.93L514.80 126.59L516.10 127.25L517.40 127.92L518.70 128.60L520.00 129.28L521.30 129.96L522.60 130.66L523.90 131.36L525.20 132.07L526.50 132.79L527.80 133.51L529.10 134.24L530.40 134.98L531.70 135.73L533.00 136.49L534.30 137.26L535.60 138.04L536.90 138.82L538.20 139.62L539.50 140.42L540.80 141.23L542.10 142.06L543.40 142.89L544.70 143.72L546.00 144.57L547.30 145.42L548.60 146.29L549.90 147.16L551.20 148.04L552.50 148.92L553.80 149.81L555.10 150.71L556.40 151.62L557.70 152.54L559.00 153.46L560.30 154.39L561.60 155.33L562.90 156.27L564.20 157.22L565.50 158.18L566.80 159.14L568.10 160.11L569.40 161.08L570.70 162.06L572.00 163.05L573.30 164.04L574.60 165.04L575.90 166.04L577.20 167.05L578.50 168.07L579.80 169.09L581.10 170.11L582.40 171.14L583.70 172.18L585.00 173.22L586.30 174.26L587.60 175.31L588.90 176.37L590.20 177.42L591.50 178.49L592.80 179.55L594.10 180.62L595.40 181.69L596.70 182.77L598.00 183.85L599.30 184.94L600.60 186.03L601.90 187.12L603.20 188.21L604.50 189.31L605.80 190.41L607.10 191.51L608.40 192.62L609.70 193.72L611.00 194.84L612.30 195.95L613.60 197.06L614.90 198.18L616.20 199.30L617.50 200.42L618.80 201.54L620.10 202.67L621.40 203.79L622.70 204.92L624.00 206.05L625.30 207.18L626.60 208.31L627.90 209.44L629.20 210.57L630.50 211.71L631.80 212.84L633.10 213.97L634.40 215.11L635.70 216.24L637.00 217.38L638.30 218.51L639.60 219.65L640.90 220.78L642.20 221.91L643.50 223.05L644.80 224.18L646.10 225.31L647.40 226.44L648.70 227.57L650.00 228.70" stroke="#000" stroke-width="1.6" fill="none" stroke-dasharray="5.4 4.7" stroke-dashoffset="0.58"/><path d="M390.00 31.30L390.32 31.53L390.65 31.75L390.98 31.97L391.30 32.19L391.62 32.41L391.95 32.63L392.27 32.85L392.60 33.07L392.93 33.29L393.25 33.51L393.57 33.73L393.90 33.94L394.23 34.16L394.55 34.38L394.88 34.59L395.20 34.81L395.52 35.02L395.85 35.24L396.18 35.45L396.50 35.67L396.82 35.88L397.15 36.10L397.48 36.31L397.80 36.52L398.12 36.74L398.45 36.95L398.77 37.16L399.10 37.38L399.43 37.59L399.75 37.80L400.07 38.01L400.40 38.22L400.73 38.43L401.05 38.64L401.38 38.85L401.70 39.06L402.02 39.27L402.35 39.48L402.68 39.69L403.00 39.90L404.30 40.73L405.60 41.56L406.90 42.38L408.20 43.20L409.50 44.01L410.80 44.83L412.10 45.63L413.40 46.44L414.70 47.24L416.00 48.03L417.30 48.83L418.60 49.62L419.90 50.41L421.20 51.19L422.50 51.97L423.80 52.75L425.10 53.53L426.40 54.30L427.70 55.07L429.00 55.84L430.30 56.61L431.60 57.38L432.90 58.14L434.20 58.91L435.50 59.67L436.80 60.43L438.10 61.19L439.40 61.94L440.70 62.70L442.00 63.46L443.30 64.21L444.60 64.97L445.90 65.72L447.20 66.48L448.50 67.23L449.80 67.98L451.10 68.74L452.40 69.49L453.70 70.24L455.00 71.00L456.30 71.75L457.60 72.51L458.90 73.27L460.20 74.02L461.50 74.78L462.80 75.54L464.10 76.30L465.40 77.06L466.70 77.83L468.00 78.59L469.30 79.36L470.60 80.13L471.90 80.90L473.20 81.68L474.50 82.45L475.80 83.23L477.10 84.01L478.40 84.80L479.70 85.58L481.00 86.37L482.30 87.17L483.60 87.96L484.90 88.76L486.20 89.56L487.50 90.37L488.80 91.18L490.10 91.99L491.40 92.81L492.70 93.63L494.00 94.46L495.30 95.29L496.60 96.12L497.90 96.96L499.20 97.81L500.50 98.66L501.80 99.51L503.10 100.37L504.40 101.23L505.70 102.10L507.00 102.98L508.30 103.86L509.60 104.75L510.90 105.64L512.20 106.54L513.50 107.44L514.80 108.35L516.10 109.27L517.40 110.19L518.70 111.12L520.00 112.06L521.30 113.00L522.60 113.95L523.90 114.90L525.20 115.86L526.50 116.83L527.80 117.80L529.10 118.78L530.40 119.76L531.70 120.75L533.00 121.75L534.30 122.74L535.60 123.75L536.90 124.76L538.20 125.77L539.50 126.80L540.80 127.82L542.10 128.85L543.40 129.89L544.70 130.93L546.00 131.97L547.30 133.02L548.60 134.08L549.90 135.13L551.20 136.20L552.50 137.26L553.80 138.34L555.10 139.41L556.40 140.49L557.70 141.58L559.00 142.67L560.30 143.76L561.60 144.86L562.90 145.96L564.20 147.06L565.50 148.17L566.80 149.28L568.10 150.40L569.40 151.51L570.70 152.64L572.00 153.76L573.30 154.89L574.60 156.02L575.90 157.16L577.20 158.29L578.50 159.44L579.80 160.58L581.10 161.73L582.40 162.88L583.70 164.03L585.00 165.18L586.30 166.34L587.60 167.50L588.90 168.66L590.20 169.83L591.50 170.99L592.80 172.16L594.10 173.33L595.40 174.51L596.70 175.68L598.00 176.86L599.30 178.04L600.60 179.22L601.90 180.40L603.20 181.59L604.50 182.77L605.80 183.96L607.10 185.15L608.40 186.34L609.70 187.53L611.00 188.72L612.30 189.92L613.60 191.11L614.90 192.31L616.20 193.50L617.50 194.70L618.80 195.90L620.10 197.10L621.40 198.30L622.70 199.50L624.00 200.70L625.30 201.90L626.60 203.10L627.90 204.30L629.20 205.50L630.50 206.71L631.80 207.91L633.10 209.11L634.40 210.31L635.70 211.51L637.00 212.72L638.30 213.92L639.60 215.12L640.90 216.32L642.20 217.52L643.50 218.72L644.80 219.92L646.10 221.12L647.40 222.31L648.70 223.51L650.00 224.71" stroke="#000" stroke-width="1.6" fill="none"/></g>
<text class="big" transform="translate(2,13.05) scale(1,1)" font-size="15.5">A. Estimated number of LLs in NTEs</text>
<text class="big" transform="translate(339.3,12.95) scale(1,1)" font-size="15.55">B. Prediction of low-dose HRS</text>
<path d="M66.03 274.5v-4M66.03 30.6v4M75.11 274.5v-4M75.11 30.6v4M81.55 274.5v-4M81.55 30.6v4M86.55 274.5v-4M86.55 30.6v4M90.64 274.5v-4M90.64 30.6v4M94.09 274.5v-4M94.09 30.6v4M97.08 274.5v-4M97.08 30.6v4M99.72 274.5v-4M99.72 30.6v4M102.08 274.5v-6M102.08 30.6v6M117.61 274.5v-4M117.61 30.6v4M126.69 274.5v-4M126.69 30.6v4M133.13 274.5v-4M133.13 30.6v4M138.13 274.5v-4M138.13 30.6v4M142.22 274.5v-4M142.22 30.6v4M145.67 274.5v-4M145.67 30.6v4M148.66 274.5v-4M148.66 30.6v4M151.30 274.5v-4M151.30 30.6v4M153.66 274.5v-6M153.66 30.6v6M169.19 274.5v-4M169.19 30.6v4M178.27 274.5v-4M178.27 30.6v4M184.71 274.5v-4M184.71 30.6v4M189.71 274.5v-4M189.71 30.6v4M193.80 274.5v-4M193.80 30.6v4M197.25 274.5v-4M197.25 30.6v4M200.24 274.5v-4M200.24 30.6v4M202.88 274.5v-4M202.88 30.6v4M205.24 274.5v-6M205.24 30.6v6M220.77 274.5v-4M220.77 30.6v4M229.85 274.5v-4M229.85 30.6v4M236.29 274.5v-4M236.29 30.6v4M241.29 274.5v-4M241.29 30.6v4M245.38 274.5v-4M245.38 30.6v4M248.83 274.5v-4M248.83 30.6v4M251.82 274.5v-4M251.82 30.6v4M254.46 274.5v-4M254.46 30.6v4M256.82 274.5v-6M256.82 30.6v6M272.35 274.5v-4M272.35 30.6v4M281.43 274.5v-4M281.43 30.6v4M287.87 274.5v-4M287.87 30.6v4M292.87 274.5v-4M292.87 30.6v4M296.96 274.5v-4M296.96 30.6v4M300.41 274.5v-4M300.41 30.6v4M303.40 274.5v-4M303.40 30.6v4M306.04 274.5v-4M306.04 30.6v4M50.5 256.14h4M308.4 256.14h-4M50.5 245.41h4M308.4 245.41h-4M50.5 237.79h4M308.4 237.79h-4M50.5 231.88h4M308.4 231.88h-4M50.5 227.05h4M308.4 227.05h-4M50.5 222.97h4M308.4 222.97h-4M50.5 219.43h4M308.4 219.43h-4M50.5 216.32h4M308.4 216.32h-4M50.5 213.53h6M308.4 213.53h-6M50.5 195.17h4M308.4 195.17h-4M50.5 184.43h4M308.4 184.43h-4M50.5 176.81h4M308.4 176.81h-4M50.5 170.91h4M308.4 170.91h-4M50.5 166.08h4M308.4 166.08h-4M50.5 162.00h4M308.4 162.00h-4M50.5 158.46h4M308.4 158.46h-4M50.5 155.34h4M308.4 155.34h-4M50.5 152.55h6M308.4 152.55h-6M50.5 134.19h4M308.4 134.19h-4M50.5 123.46h4M308.4 123.46h-4M50.5 115.84h4M308.4 115.84h-4M50.5 109.93h4M308.4 109.93h-4M50.5 105.10h4M308.4 105.10h-4M50.5 101.02h4M308.4 101.02h-4M50.5 97.48h4M308.4 97.48h-4M50.5 94.37h4M308.4 94.37h-4M50.5 91.58h6M308.4 91.58h-6M50.5 73.22h4M308.4 73.22h-4M50.5 62.48h4M308.4 62.48h-4M50.5 54.86h4M308.4 54.86h-4M50.5 48.96h4M308.4 48.96h-4M50.5 44.13h4M308.4 44.13h-4M50.5 40.05h4M308.4 40.05h-4M50.5 36.51h4M308.4 36.51h-4M50.5 33.39h4M308.4 33.39h-4" stroke="#000" stroke-width="1.1" fill="none"/>
<rect x="50.5" y="30.6" width="257.9" height="243.9" stroke="#111" stroke-width="1.2" fill="none"/>
<text x="24.2" y="34.80" font-size="11.7">10</text>
<text x="37.9" y="31.40" font-size="8">1</text>
<text x="24.2" y="95.78" font-size="11.7">10</text>
<text x="37.9" y="92.38" font-size="8">0</text>
<text x="24.2" y="156.75" font-size="11.7">10</text>
<text x="36.9" y="153.35" font-size="8">-1</text>
<text x="24.2" y="217.72" font-size="11.7">10</text>
<text x="36.9" y="214.33" font-size="8">-2</text>
<text x="24.2" y="278.70" font-size="11.7">10</text>
<text x="36.9" y="275.30" font-size="8">-3</text>
<text x="39.84" y="290.7" font-size="11.7">10</text>
<text x="52.75" y="286.6" font-size="8">-4</text>
<text x="91.42" y="290.7" font-size="11.7">10</text>
<text x="104.33" y="286.6" font-size="8">-3</text>
<text x="143.00" y="290.7" font-size="11.7">10</text>
<text x="155.91" y="286.6" font-size="8">-2</text>
<text x="194.58" y="290.7" font-size="11.7">10</text>
<text x="207.49" y="286.6" font-size="8">-1</text>
<text x="247.49" y="290.7" font-size="11.7">10</text>
<text x="260.40" y="286.6" font-size="8">0</text>
<text x="299.07" y="290.7" font-size="11.7">10</text>
<text x="311.98" y="286.6" font-size="8">1</text>
<text class="big" transform="translate(108.9,313.85) scale(1,1)" font-size="15.6">Absorbed dose [Gy]</text>
<text class="big" transform="translate(12,286.6) rotate(-90)" x="0" y="0" font-size="12.9">Number of LLs per nucleus induced by NTEs</text>
<path d="M63.9 60.15H85.8" stroke="#333" stroke-width="1.5"/>
<path d="M64.1 76.3H87" stroke="#000" stroke-width="1.4" stroke-dasharray="9.6 3.4 1.7 3.4"/>
<path d="M150 60.3H172.2" stroke="#000" stroke-width="1.5" stroke-dasharray="5 3.4"/>
<path d="M150.5 76.2H172.9" stroke="#a8a8a8" stroke-width="1.4"/>
<path d="M65.1 108.4H86" stroke="#a0a0a0" stroke-width="1.6" stroke-dasharray="5.8 4.2"/>
<path d="M64.7 121.2H85.9" stroke="#000" stroke-width="1.7" stroke-dasharray="1.5 1.38"/>
<text x="62.2" y="49.5" font-size="10.4">Broad beam irradiation</text>
<text x="92.66" y="64" font-size="10.25">V79-379A</text>
<text x="92.27" y="79.6" font-size="10.25">MRC-5</text>
<text x="182.1" y="64" font-size="10.25">T-47D</text>
<text x="181.3" y="79.6" font-size="10.25">CHO-K1</text>
<text x="62.3" y="98.8" font-size="10.4">MTBEs</text>
<text x="92.26" y="112" font-size="10.25">HPV-G</text>
<text x="92.3" y="124.6" font-size="10.4">E48</text>
<path d="M389.6 61.69h5M650.3 61.69h-5M389.6 92.07h5M650.3 92.07h-5M389.6 122.46h5M650.3 122.46h-5M389.6 152.85h5M650.3 152.85h-5M389.6 183.24h5M650.3 183.24h-5M389.6 213.62h5M650.3 213.62h-5M389.6 244.01h5M650.3 244.01h-5M454.77 274.4v-4.5M454.77 31.3v4.5M519.95 274.4v-4.5M519.95 31.3v4.5M585.12 274.4v-4.5M585.12 31.3v4.5" stroke="#000" stroke-width="1.1" fill="none"/>
<rect x="389.70000000000005" y="31.3" width="260.5999999999999" height="243.09999999999997" stroke="#1a1a1a" stroke-width="1.35" fill="none"/>
<text x="382" y="34.75" font-size="11.7" text-anchor="end">1.0</text>
<text x="382" y="98.54" font-size="11.7" text-anchor="end">0.9</text>
<text x="382" y="169.84" font-size="11.7" text-anchor="end">0.8</text>
<text x="382" y="250.68" font-size="11.7" text-anchor="end">0.7</text>
<text x="389.60" y="290.6" font-size="11.7" text-anchor="middle">0.0</text>
<text x="454.77" y="290.6" font-size="11.7" text-anchor="middle">0.5</text>
<text x="519.95" y="290.6" font-size="11.7" text-anchor="middle">1.0</text>
<text x="585.12" y="290.6" font-size="11.7" text-anchor="middle">1.5</text>
<text x="650.30" y="290.6" font-size="11.7" text-anchor="middle">2.0</text>
<text class="big" transform="translate(453,313.85) scale(1,1)" font-size="15.6">Absorbed dose [Gy]</text>
<text class="big" transform="translate(349,213.7) rotate(-90)" x="0" y="0" font-size="15.45">Surviving fraction</text>
<path d="M404.2 213.0H424" stroke="#000" stroke-width="1.6"/>
<text class="ser" x="434.71" y="215.1" font-size="12.5" font-style="italic">c</text>
<text class="ser" x="440.60" y="217.50" font-size="9">b</text>
<text class="ser" x="447.74" y="216.60" font-size="16">×</text>
<text class="ser" x="459.65" y="215.1" font-size="12.5">4</text>
<path d="M404.2 227.0H424" stroke="#000" stroke-width="1.6" stroke-dasharray="6 4"/>
<text class="ser" x="434.71" y="229.1" font-size="12.5" font-style="italic">c</text>
<text class="ser" x="440.60" y="231.50" font-size="9">b</text>
<text class="ser" x="447.74" y="230.60" font-size="16">×</text>
<text class="ser" x="459.50" y="229.1" font-size="12.5">1</text>
<path d="M404.2 241.1H424" stroke="#aaa" stroke-width="1.6"/>
<text class="ser" x="434.71" y="243.2" font-size="12.5" font-style="italic">c</text>
<text class="ser" x="440.60" y="245.60" font-size="9">b</text>
<text class="ser" x="447.74" y="244.70" font-size="16">×</text>
<text class="ser" x="459.50" y="243.2" font-size="12.5">1</text>
<text class="ser" transform="translate(466.8 245.20) scale(1.15 1.25)" font-size="12.5">/</text>
<text class="ser" x="472.55" y="243.2" font-size="12.5">2</text>
<path d="M404.2 254.8H424" stroke="#aaa" stroke-width="1.6" stroke-dasharray="6 4"/>
<text class="ser" x="434.71" y="256.9" font-size="12.5" font-style="italic">c</text>
<text class="ser" x="440.60" y="259.30" font-size="9">b</text>
<text class="ser" x="447.74" y="258.40" font-size="16">×</text>
<text class="ser" x="459.50" y="256.9" font-size="12.5">1</text>
<text class="ser" transform="translate(466.8 258.90) scale(1.15 1.25)" font-size="12.5">/</text>
<text class="ser" x="472.55" y="256.9" font-size="12.5">4</text>
</svg>
</body></html>
